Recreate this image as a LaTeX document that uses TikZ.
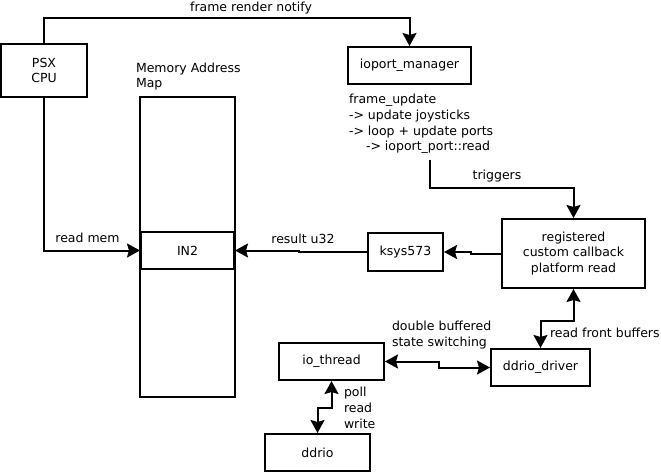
\documentclass[tikz,border=0pt]{standalone}
\usepackage{fontspec}
\setmainfont{DejaVu Sans}
\usepackage{tikz}
\usetikzlibrary{arrows.meta,positioning}

\begin{document}
\begin{tikzpicture}[x=1pt, y=-1pt, line width=2pt,
    >={Stealth[length=13pt, width=14pt, inset=2pt]},
    font=\fontsize{12.5}{15.7}\selectfont,
    block/.style={draw, line width=2pt, inner sep=0pt, align=center},
    lbl/.style={inner sep=0pt, align=left, anchor=base west}]
    \useasboundingbox (0,0) rectangle (661,473);

    % Left side: CPU and memory map
    \node[block, minimum width=86pt, minimum height=53pt] (CPU) at (44, 70.5) {PSX\\CPU};
    \node[block, minimum width=95pt, minimum height=300pt] (MEMMAP) at (187.5, 247) {};
    \node[lbl] (MEMLBL) at (135, 88) {Memory Address\\Map};
    \node[block, minimum width=93pt, minimum height=37pt] (IN2) at (187.5, 250.5) {IN2};

    % Top right: ioport manager
    \node[block, minimum width=123pt, minimum height=37pt] (IOMAN) at (409.5, 65.5) {ioport\_manager};
    \node[lbl] (FUPD) at (348, 151) {frame\_update\\-> update joysticks\\-> loop + update ports\\\hspace{17pt}-> ioport\_port::read};
    \coordinate (TRIG) at (430, 160);

    % Middle row
    \node[block, minimum width=75pt, minimum height=38pt] (KSYS) at (405.5, 252) {ksys573};
    \node[block, minimum width=143pt, minimum height=69pt] (REG) at (573.5, 253.5) {registered\\custom callback\\platform read};

    % Bottom: io thread and ddrio
    \node[block, minimum width=99pt, minimum height=37pt] (DRIVER) at (540.5, 367.5) {ddrio\_driver};
    \node[block, minimum width=105pt, minimum height=37pt] (IOTHR) at (331.5, 361.5) {io\_thread};
    \node[block, minimum width=105pt, minimum height=37pt] (DDRIO) at (317.5, 452.5) {ddrio};

    % Labels
    \node[inner sep=0pt, anchor=base] (NOTIFY) at (251, 12) {frame render notify};
    \node[inner sep=0pt, anchor=base] (READMEM) at (87.5, 242) {read mem};
    \node[inner sep=0pt, anchor=base] (RESULT) at (303, 243) {result u32};
    \node[inner sep=0pt, anchor=base] (TRIGLBL) at (497, 180) {triggers};
    \node[lbl] (FRONT) at (549, 337) {read front buffers};
    \node[lbl] (DBUF) at (391, 346) {double buffered\\state switching};
    \node[lbl] (POLL) at (343, 428) {poll\\read\\write};

    % Connectors
    \draw[->] (CPU.north) -- (CPU.north |- 0,18) -| (IOMAN.north);
    \draw[->] (CPU.south) |- (IN2.west);
    \draw[->] (KSYS.west) -- ++(-68,0) |- (IN2.east);
    \draw[->] (REG.west) -- ++(-30,0) |- (KSYS.east);
    \draw[->] (TRIG) -- (TRIG |- 0,188) -| (REG.north);
    \draw[<->] (REG.south) -- ++(0,31.5) -| (DRIVER.north);
    \draw[<->] (IOTHR.east) -- ++(54,0) |- (DRIVER.west);
    \draw[<->] (IOTHR.south) -- ++(0,27) -| (DDRIO.north);
\end{tikzpicture}
\end{document}
